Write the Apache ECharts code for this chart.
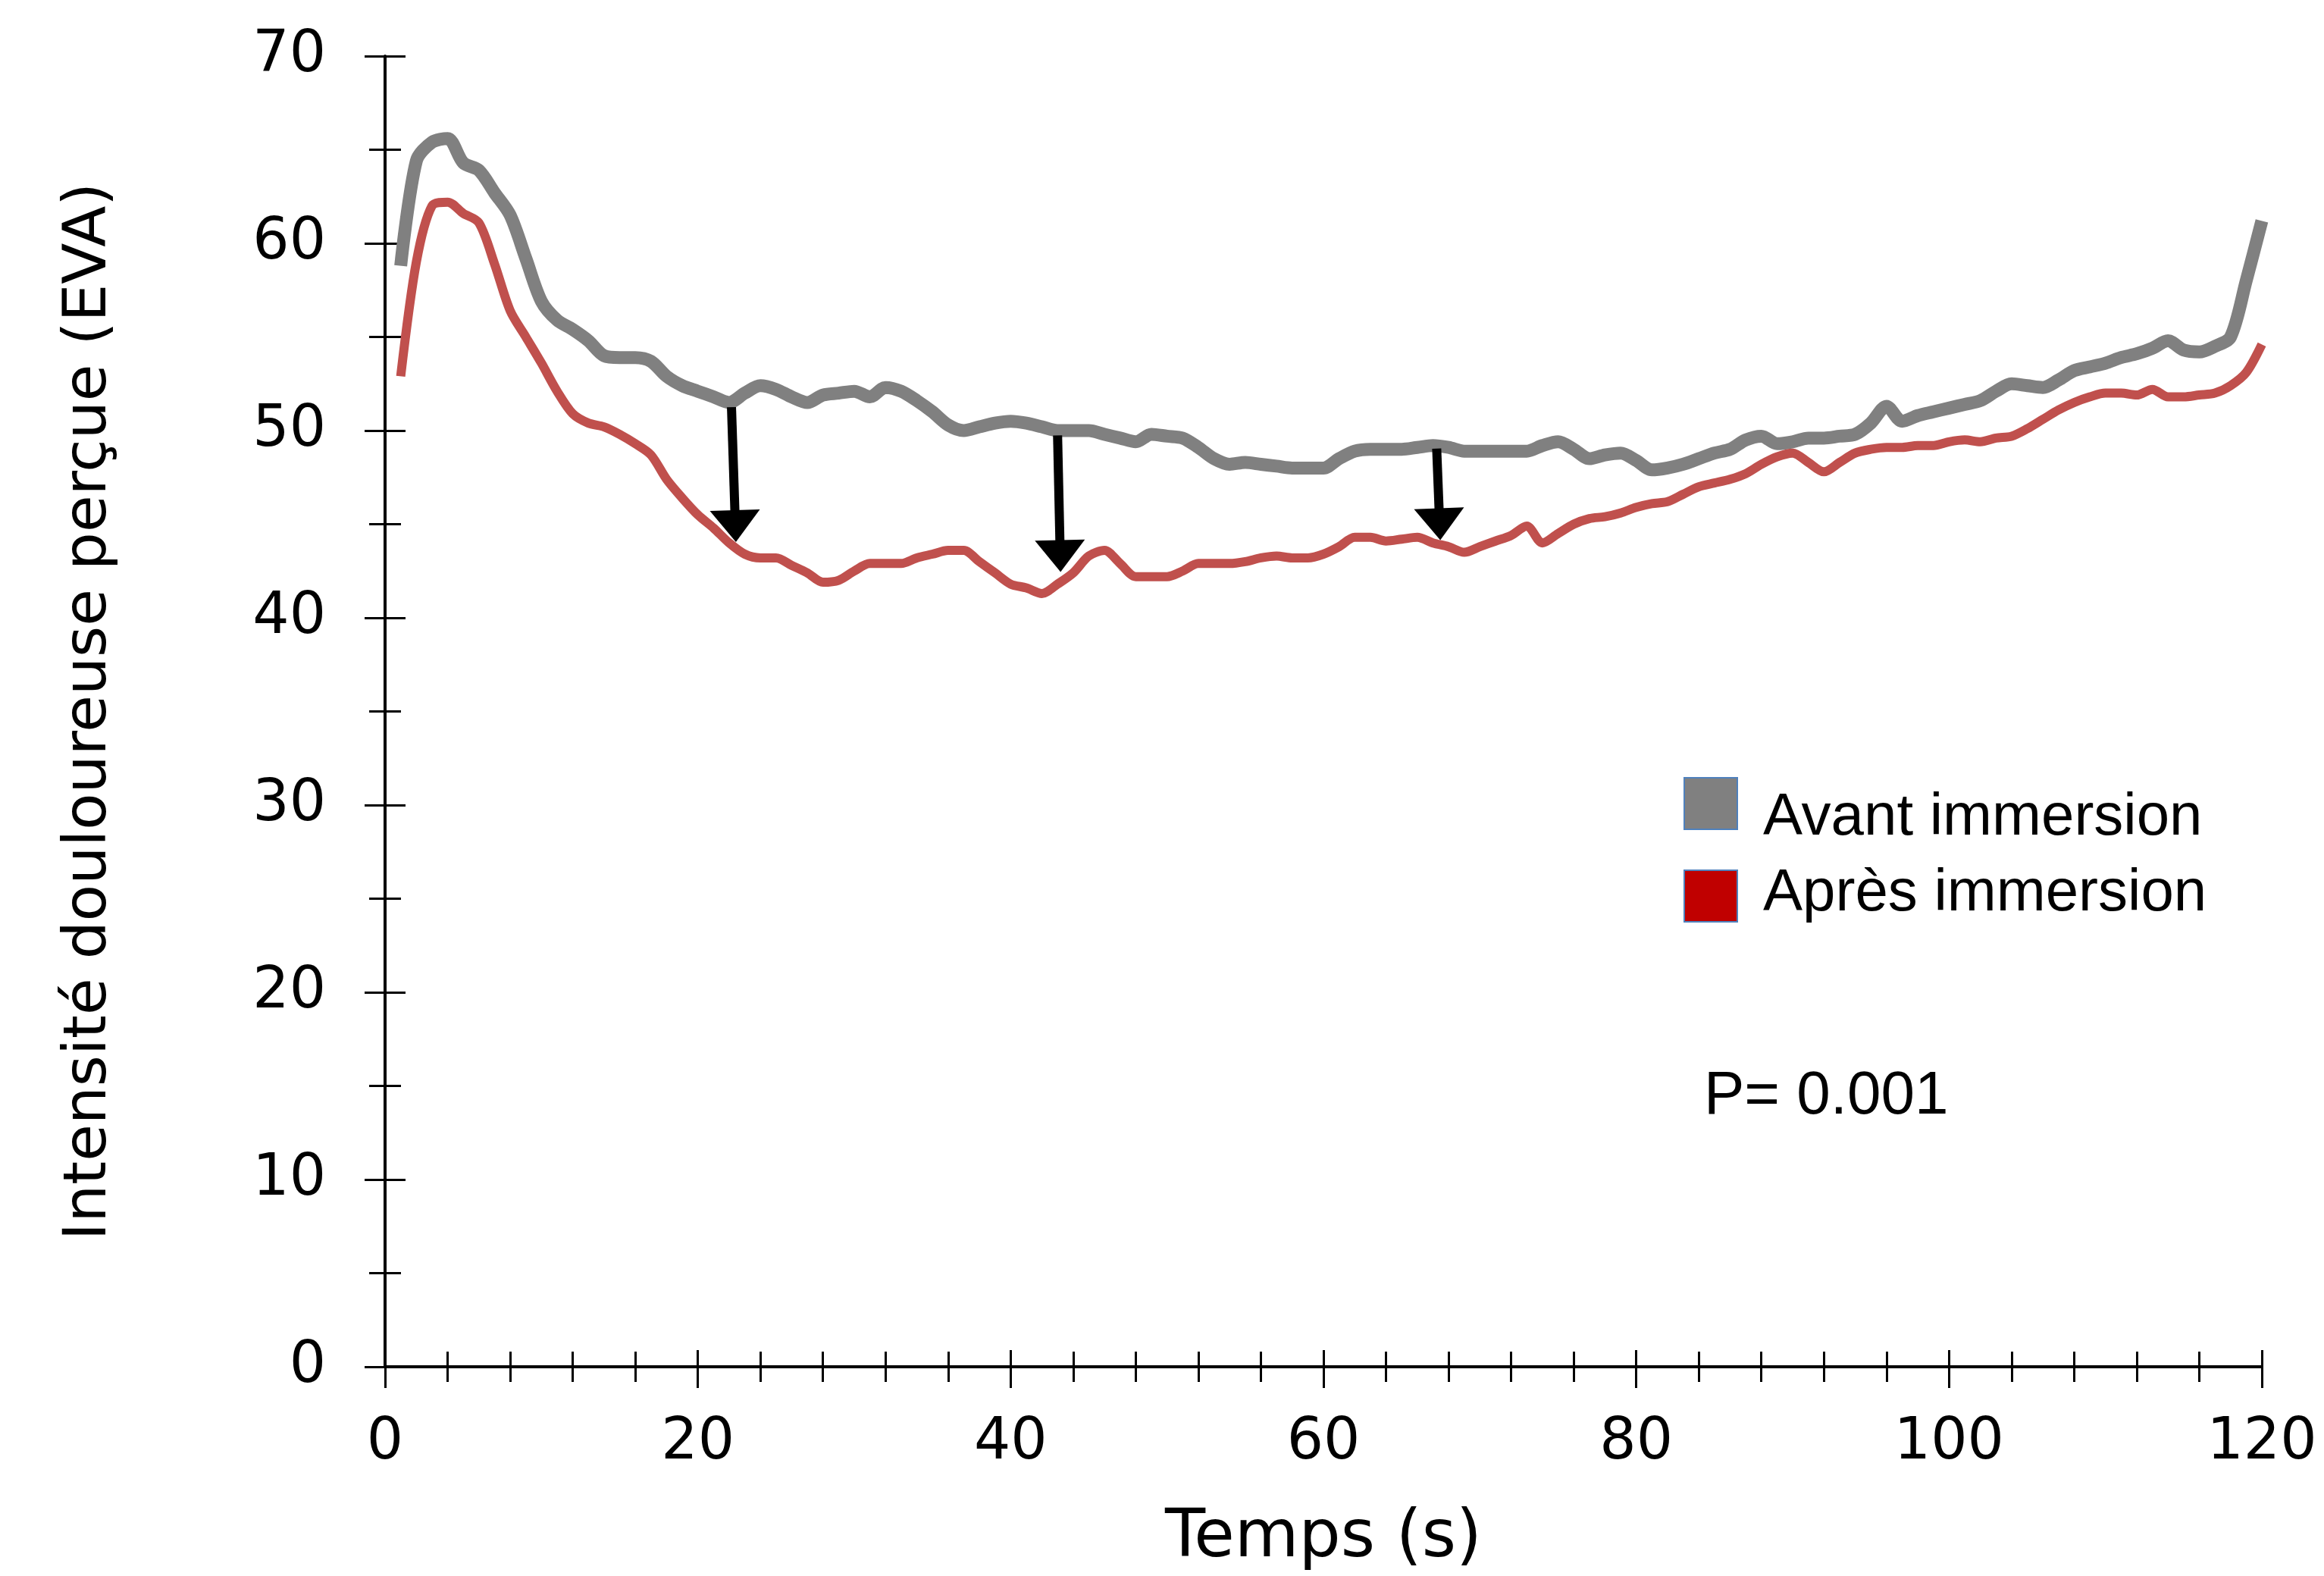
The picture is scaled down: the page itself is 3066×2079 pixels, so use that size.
<!DOCTYPE html>
<html>
<head>
<meta charset="utf-8">
<script src="https://cdn.jsdelivr.net/npm/echarts@6/dist/echarts.min.js"></script>
<style>
  html, body { margin: 0; padding: 0; background: #ffffff; }
  #chart { width: 3066px; height: 2079px; }
</style>
</head>
<body>
<div id="chart"></div>
<script>
// EVA, une valeur par seconde (t = 1 ... 120 s)
const avantImmersion = [
  58.8, 64.4, 65.4, 65.6, 64.3, 63.9, 62.7, 61.5, 59.2, 56.9,
  55.9, 55.4, 54.8, 54.0, 53.9, 53.9, 53.7, 52.9, 52.4, 52.1,
  51.8, 51.5, 52.0, 52.4, 52.2, 51.8, 51.5, 51.9, 52.0, 52.1,
  51.8, 52.3, 52.1, 51.6, 51.0, 50.3, 50.0, 50.2, 50.4, 50.5,
  50.4, 50.2, 50.0, 50.0, 50.0, 49.8, 49.6, 49.4, 49.8, 49.7,
  49.6, 49.1, 48.5, 48.2, 48.3, 48.2, 48.1, 48.0, 48.0, 48.0,
  48.5, 48.9, 49.0, 49.0, 49.0, 49.1, 49.2, 49.1, 48.9, 48.9,
  48.9, 48.9, 48.9, 49.2, 49.4, 49.0, 48.5, 48.7, 48.8, 48.4,
  47.9, 48.0, 48.2, 48.5, 48.8, 49.0, 49.5, 49.7, 49.3, 49.4,
  49.6, 49.6, 49.7, 49.8, 50.4, 51.3, 50.5, 50.8, 51.0, 51.2,
  51.4, 51.6, 52.1, 52.5, 52.4, 52.3, 52.7, 53.2, 53.4, 53.6,
  53.9, 54.1, 54.4, 54.8, 54.3, 54.2, 54.5, 55.0, 58.0, 61.2
];
const apresImmersion = [
  52.9, 59.0, 62.0, 62.2, 61.6, 61.1, 58.9, 56.4, 55.0, 53.6,
  52.1, 50.9, 50.4, 50.2, 49.8, 49.3, 48.7, 47.4, 46.4, 45.5,
  44.8, 44.0, 43.4, 43.2, 43.2, 42.8, 42.4, 41.9, 42.0, 42.5,
  42.9, 42.9, 42.9, 43.2, 43.4, 43.6, 43.6, 43.0, 42.4, 41.8,
  41.6, 41.3, 41.8, 42.4, 43.3, 43.6, 42.9, 42.2, 42.2, 42.2,
  42.5, 42.9, 42.9, 42.9, 43.0, 43.2, 43.3, 43.2, 43.2, 43.4,
  43.8, 44.3, 44.3, 44.1, 44.2, 44.3, 44.0, 43.8, 43.5, 43.8,
  44.1, 44.4, 44.9, 44.0, 44.5, 45.0, 45.3, 45.4, 45.6, 45.9,
  46.1, 46.2, 46.6, 47.0, 47.2, 47.4, 47.7, 48.2, 48.6, 48.8,
  48.3, 47.8, 48.3, 48.8, 49.0, 49.1, 49.1, 49.2, 49.2, 49.4,
  49.5, 49.4, 49.6, 49.7, 50.1, 50.6, 51.1, 51.5, 51.8, 52.0,
  52.0, 51.9, 52.2, 51.8, 51.8, 51.9, 52.0, 52.4, 53.1, 54.6
];
const temps = avantImmersion.map((_, i) => i + 1);

// flèches : [t départ, EVA départ, t pointe, EVA pointe]
const fleches = [
  [22.15, 51.25, 22.4, 44.9],
  [43.0, 49.74, 43.17, 43.3],
  [67.24, 49.04, 67.43, 45.0]
];

const noms = ['Avant immersion', 'Après immersion'];
const pValeur = 'P= 0.001';

const axisFont = 'DejaVu Sans';
const textFont = 'Liberation Sans';
const noir = '#000000';

const chart = echarts.init(document.getElementById('chart'));

const tickStyle = { color: noir, width: 3 };
const xCommon = { type: 'value', min: 0, max: 120, interval: 20, position: 'bottom', splitLine: { show: false } };
const yCommon = { type: 'value', min: 0, max: 70, interval: 10, position: 'left', splitLine: { show: false } };

chart.setOption({
  animation: false,
  backgroundColor: '#ffffff',
  grid: { left: 508, right: 82, top: 74, bottom: 272 },
  legend: {
    orient: 'vertical',
    left: 2221,
    top: 1025,
    padding: 0,
    itemWidth: 70,
    itemHeight: 68,
    itemGap: 22,
    icon: 'rect',
    formatter: name => (name === noms[0] ? '{a|' + name + '}' : '{b|' + name + '}'),
    textStyle: {
      fontFamily: textFont, fontSize: 78, color: noir,
      rich: {
        a: { fontFamily: textFont, fontSize: 78, color: noir, padding: [38, 0, 0, 29] },
        b: { fontFamily: textFont, fontSize: 78, color: noir, padding: [0, 0, 6, 29] }
      }
    },
    data: [
      { name: noms[0], itemStyle: { color: '#808080', borderColor: '#4F81BD', borderWidth: 2 } },
      { name: noms[1], itemStyle: { color: '#C00000', borderColor: '#4F81BD', borderWidth: 2 } }
    ]
  },
  xAxis: [
    Object.assign({}, xCommon, {
      axisLine: { lineStyle: { color: noir, width: 4 } },
      axisTick: { length: 28, lineStyle: tickStyle },
      minorTick: { show: true, splitNumber: 5, length: 20, lineStyle: tickStyle },
      axisLabel: { margin: 63, fontFamily: axisFont, fontSize: 76, color: noir },
      name: 'Temps (s)',
      nameLocation: 'middle',
      nameGap: 184,
      nameTextStyle: { fontFamily: axisFont, fontSize: 87, color: noir }
    }),
    Object.assign({}, xCommon, {
      axisLine: { show: false },
      axisTick: { inside: true, length: 22, lineStyle: tickStyle },
      minorTick: { show: true, splitNumber: 5, length: 20, lineStyle: tickStyle },
      axisLabel: { show: false }
    })
  ],
  yAxis: [
    Object.assign({}, yCommon, {
      axisLine: { show: true, lineStyle: { color: noir, width: 4 } },
      axisTick: { show: true, length: 27, lineStyle: tickStyle },
      minorTick: { show: true, splitNumber: 2, length: 21, lineStyle: tickStyle },
      axisLabel: { margin: 78, fontFamily: axisFont, fontSize: 76, color: noir },
      name: 'Intensité douloureuse perçue (EVA)',
      nameLocation: 'middle',
      nameGap: 350,
      nameTextStyle: { fontFamily: axisFont, fontSize: 79, color: noir }
    }),
    Object.assign({}, yCommon, {
      axisLine: { show: false },
      axisTick: { show: true, inside: true, length: 27, lineStyle: tickStyle },
      minorTick: { show: true, splitNumber: 2, length: 21, lineStyle: tickStyle },
      axisLabel: { show: false }
    })
  ],
  series: [
    {
      name: noms[0],
      type: 'line',
      xAxisIndex: 0,
      yAxisIndex: 0,
      data: temps.map((t, i) => [t, avantImmersion[i]]),
      symbol: 'none',
      smooth: 0.3,
      lineStyle: { color: '#808080', width: 17, join: 'round' },
      itemStyle: { color: '#808080' },
      z: 2
    },
    {
      name: noms[1],
      type: 'line',
      xAxisIndex: 0,
      yAxisIndex: 0,
      data: temps.map((t, i) => [t, apresImmersion[i]]),
      symbol: 'none',
      smooth: 0.3,
      lineStyle: { color: '#C0504D', width: 12, join: 'round' },
      itemStyle: { color: '#C0504D' },
      z: 3
    },
    {
      name: 'fleches',
      type: 'line',
      xAxisIndex: 0,
      yAxisIndex: 0,
      data: [],
      z: 5,
      markLine: {
        silent: true,
        symbol: ['none', 'triangle'],
        symbolSize: [66, 42],
        label: { show: false },
        lineStyle: { color: noir, width: 12, type: 'solid' },
        data: fleches.map(f => [{ coord: [f[0], f[1]] }, { coord: [f[2], f[3]] }])
      }
    }
  ],
  graphic: [
    {
      type: 'text',
      left: 2248,
      top: 1407,
      style: { text: pValeur, font: '80px "Liberation Sans"', fill: noir }
    }
  ]
});
</script>
</body>
</html>
